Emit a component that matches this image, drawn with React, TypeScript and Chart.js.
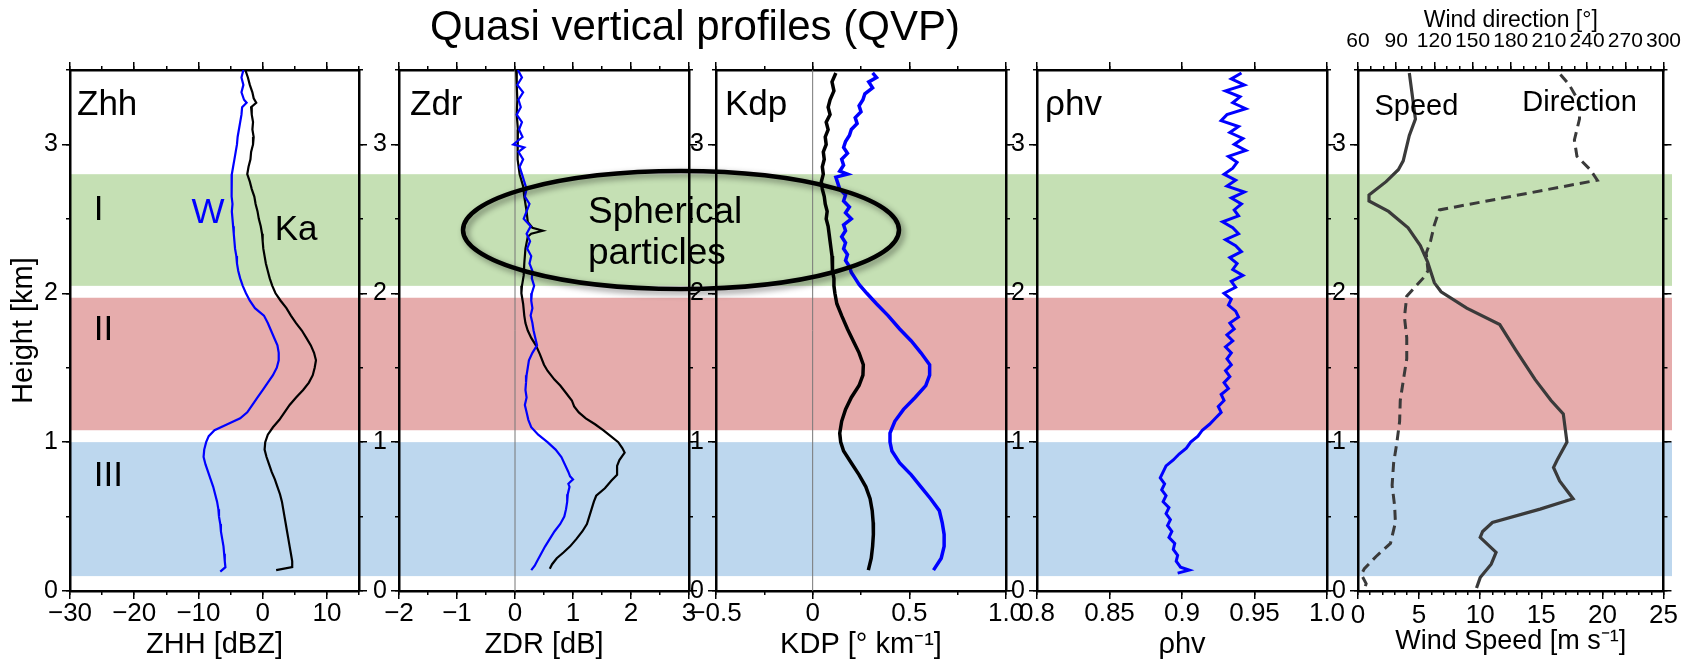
import React, { useEffect, useRef } from 'react';
import { Chart, registerables } from 'chart.js';

Chart.register(...registerables);

const FONT = "'Liberation Sans', Arial, Helvetica, sans-serif";
Chart.defaults.font.family = FONT;
Chart.defaults.color = '#000';

// ---------------- data ----------------
const heightRange = [0, 3.5];
const heightMajor = [0, 1, 2, 3];
const heightLabels = ['0', '1', '2', '3'];
const heightMinor = [0, 0.5, 1, 1.5, 2, 2.5, 3, 3.5];

const layerNames = ['I', 'II', 'III'];
const layerTop = [2.8, 1.97, 1.0];
const layerBottom = [2.05, 1.08, 0.1];
const layerLabelHeight = [2.56, 1.75, 0.77];

// Zhh
const zhhRange = [-30, 15];
const zhhMajor = [-30, -20, -10, 0, 10];
const zhhLabels = ['−30', '−20', '−10', '0', '10'];
const zhhMinor = [-30, -25, -20, -15, -10, -5, 0, 5, 10, 15];
const zhhKaHeight = [3.5, 3.45, 3.4, 3.35, 3.31, 3.28, 3.25, 3.2, 3.15, 3.1, 3.05, 3.0, 2.95, 2.9, 2.85, 2.8, 2.75, 2.7, 2.65, 2.6, 2.55, 2.5, 2.45, 2.4, 2.35, 2.3, 2.25, 2.2, 2.15, 2.1, 2.05, 2.0, 1.95, 1.9, 1.85, 1.8, 1.75, 1.7, 1.65, 1.6, 1.55, 1.5, 1.45, 1.4, 1.35, 1.3, 1.25, 1.2, 1.15, 1.1, 1.05, 1.0, 0.95, 0.9, 0.85, 0.8, 0.75, 0.7, 0.65, 0.6, 0.55, 0.5, 0.45, 0.4, 0.35, 0.3, 0.25, 0.2, 0.16, 0.14];
const zhhKaValue = [-2.7, -2.3, -2.0, -1.6, -1.4, -1.0, -1.8, -1.7, -1.5, -1.6, -1.4, -1.5, -1.8, -1.9, -2.2, -2.4, -2.0, -1.7, -1.3, -1.1, -0.8, -0.6, -0.3, -0.1, 0.0, 0.1, 0.3, 0.5, 0.8, 1.1, 1.5, 2.0, 2.8, 3.7, 4.4, 5.2, 6.1, 6.8, 7.5, 8.0, 8.3, 8.1, 7.8, 7.2, 6.3, 5.2, 4.2, 3.4, 2.6, 1.6, 0.8, 0.4, 0.3, 0.6, 1.0, 1.4, 1.9, 2.3, 2.7, 3.0, 3.2, 3.4, 3.6, 3.8, 4.0, 4.2, 4.4, 4.6, 4.6, 2.1];
const zhhWHeight = [3.5, 3.45, 3.4, 3.35, 3.3, 3.28, 3.25, 3.2, 3.15, 3.1, 3.05, 3.0, 2.95, 2.9, 2.85, 2.8, 2.75, 2.7, 2.65, 2.6, 2.55, 2.5, 2.45, 2.4, 2.35, 2.3, 2.25, 2.2, 2.15, 2.1, 2.05, 2.0, 1.95, 1.9, 1.85, 1.8, 1.75, 1.7, 1.65, 1.6, 1.55, 1.5, 1.45, 1.4, 1.35, 1.3, 1.25, 1.2, 1.16, 1.12, 1.08, 1.04, 1.0, 0.95, 0.9, 0.85, 0.8, 0.75, 0.7, 0.65, 0.6, 0.55, 0.5, 0.45, 0.4, 0.35, 0.3, 0.25, 0.2, 0.16, 0.13];
const zhhWValue = [-3.0, -3.3, -3.0, -3.3, -2.9, -2.5, -3.2, -3.3, -3.5, -3.7, -3.9, -4.0, -4.2, -4.4, -4.6, -4.8, -4.9, -4.8, -4.8, -4.7, -4.8, -4.7, -4.6, -4.5, -4.4, -4.3, -4.1, -4.0, -3.8, -3.5, -3.1, -2.6, -2.0, -1.2, 0.2, 0.8, 1.3, 1.8, 2.3, 2.5, 2.5, 2.2, 1.6, 0.8, 0.0, -0.8, -1.6, -2.4, -3.5, -5.5, -7.5, -8.4, -8.8, -9.1, -9.2, -8.9, -8.5, -8.1, -7.7, -7.4, -7.1, -6.9, -6.8, -6.6, -6.5, -6.3, -6.1, -6.0, -5.9, -5.8, -6.6];

// Zdr
const zdrRange = [-2, 3];
const zdrMajor = [-2, -1, 0, 1, 2, 3];
const zdrLabels = ['−2', '−1', '0', '1', '2', '3'];
const zdrMinor = [-2, -1.5, -1, -0.5, 0, 0.5, 1, 1.5, 2, 2.5, 3];
const zdrKaHeight = [3.5, 3.4, 3.3, 3.2, 3.1, 3.0, 2.9, 2.8, 2.72, 2.65, 2.55, 2.48, 2.44, 2.42, 2.4, 2.38, 2.3, 2.2, 2.12, 2.05, 2.0, 1.93, 1.85, 1.8, 1.75, 1.7, 1.65, 1.59, 1.52, 1.48, 1.42, 1.38, 1.33, 1.28, 1.24, 1.2, 1.16, 1.12, 1.08, 1.04, 1.0, 0.96, 0.93, 0.88, 0.84, 0.78, 0.74, 0.69, 0.64, 0.6, 0.55, 0.5, 0.45, 0.4, 0.35, 0.3, 0.26, 0.22, 0.18, 0.15];
const zdrKaValue = [0.02, 0.03, 0.04, 0.03, 0.05, 0.04, 0.05, 0.08, 0.14, 0.16, 0.2, 0.22, 0.3, 0.48, 0.28, 0.22, 0.18, 0.16, 0.15, 0.12, 0.11, 0.14, 0.16, 0.18, 0.22, 0.28, 0.36, 0.43, 0.5, 0.56, 0.68, 0.78, 0.88, 0.98, 1.02, 1.1, 1.22, 1.38, 1.52, 1.65, 1.78, 1.85, 1.89, 1.8, 1.76, 1.76, 1.66, 1.55, 1.4, 1.36, 1.32, 1.28, 1.24, 1.16, 1.06, 0.95, 0.84, 0.72, 0.64, 0.6];
const zdrWHeight = [3.5, 3.45, 3.4, 3.35, 3.3, 3.25, 3.2, 3.15, 3.1, 3.05, 3.0, 2.98, 2.95, 2.9, 2.85, 2.8, 2.75, 2.7, 2.65, 2.6, 2.55, 2.5, 2.45, 2.4, 2.35, 2.3, 2.25, 2.2, 2.15, 2.1, 2.05, 2.0, 1.95, 1.9, 1.85, 1.8, 1.75, 1.7, 1.65, 1.6, 1.55, 1.5, 1.45, 1.4, 1.35, 1.3, 1.25, 1.2, 1.15, 1.1, 1.05, 1.0, 0.95, 0.9, 0.85, 0.8, 0.77, 0.75, 0.72, 0.7, 0.65, 0.6, 0.55, 0.5, 0.45, 0.4, 0.35, 0.3, 0.25, 0.2, 0.17, 0.14];
const zdrWValue = [0.05, 0.12, 0.04, 0.14, 0.06, 0.1, 0.03, 0.12, 0.07, 0.13, -0.03, 0.16, 0.06, 0.14, 0.08, 0.12, 0.16, 0.2, 0.17, 0.25, 0.2, 0.15, 0.27, 0.2, 0.26, 0.21, 0.28, 0.25, 0.3, 0.29, 0.33, 0.29, 0.28, 0.3, 0.27, 0.3, 0.32, 0.35, 0.38, 0.3, 0.24, 0.22, 0.2, 0.19, 0.18, 0.2, 0.17, 0.2, 0.23, 0.28, 0.4, 0.56, 0.7, 0.8, 0.86, 0.92, 0.95, 1.0, 0.92, 0.94, 0.91, 0.9, 0.88, 0.85, 0.78, 0.68, 0.6, 0.52, 0.45, 0.38, 0.34, 0.28];

// Kdp
const kdpRange = [-0.5, 1.0];
const kdpMajor = [-0.5, 0, 0.5, 1.0];
const kdpLabels = ['−0.5', '0', '0.5', '1.0'];
const kdpMinor = [-0.5, -0.25, 0, 0.25, 0.5, 0.75, 1.0];
const kdpKaHeight = [3.48, 3.42, 3.36, 3.3, 3.25, 3.2, 3.15, 3.1, 3.05, 3.0, 2.95, 2.9, 2.85, 2.8, 2.75, 2.7, 2.65, 2.6, 2.55, 2.5, 2.45, 2.4, 2.35, 2.3, 2.25, 2.2, 2.15, 2.1, 2.05, 2.0, 1.93, 1.85, 1.76, 1.68, 1.6, 1.52, 1.45, 1.38, 1.3, 1.22, 1.14, 1.06, 1.0, 0.94, 0.86, 0.78, 0.7, 0.62, 0.54, 0.46, 0.38, 0.3, 0.22, 0.14];
const kdpKaValue = [0.12, 0.1, 0.11, 0.09, 0.08, 0.09, 0.07, 0.08, 0.065, 0.07, 0.055, 0.06, 0.05, 0.055, 0.045, 0.05, 0.06, 0.065, 0.075, 0.07, 0.08, 0.085, 0.09, 0.095, 0.1, 0.1, 0.105, 0.11, 0.11, 0.115, 0.125, 0.15, 0.18, 0.21, 0.24, 0.262, 0.26, 0.24, 0.2, 0.17, 0.15, 0.14, 0.145, 0.16, 0.2, 0.24, 0.275, 0.297, 0.308, 0.313, 0.314, 0.31, 0.303, 0.288];
const kdpWHeight = [3.48, 3.45, 3.42, 3.38, 3.34, 3.3, 3.26, 3.22, 3.18, 3.14, 3.1, 3.06, 3.02, 2.98, 2.94, 2.9, 2.86, 2.82, 2.8, 2.78, 2.74, 2.7, 2.66, 2.62, 2.58, 2.54, 2.5, 2.46, 2.42, 2.38, 2.34, 2.3, 2.26, 2.22, 2.18, 2.14, 2.1, 2.06, 2.0, 1.93, 1.85, 1.76, 1.68, 1.6, 1.52, 1.45, 1.38, 1.3, 1.22, 1.14, 1.06, 1.0, 0.94, 0.86, 0.78, 0.7, 0.62, 0.54, 0.46, 0.38, 0.3, 0.22, 0.14];
const kdpWValue = [0.31, 0.33, 0.29, 0.31, 0.27, 0.26, 0.24, 0.25, 0.22, 0.23, 0.2, 0.19, 0.17, 0.16, 0.18, 0.15, 0.16, 0.14, 0.18, 0.12, 0.13, 0.14, 0.17, 0.16, 0.19, 0.17, 0.2, 0.16, 0.17, 0.15, 0.17, 0.16, 0.18, 0.17, 0.19, 0.2, 0.22, 0.24, 0.28, 0.33, 0.39, 0.45, 0.51, 0.56, 0.605, 0.605, 0.585, 0.53, 0.47, 0.425, 0.4, 0.4, 0.41, 0.45, 0.51, 0.56, 0.61, 0.655, 0.67, 0.68, 0.68, 0.665, 0.625];

// rho hv
const rhoRange = [0.8, 1.0];
const rhoMajor = [0.8, 0.85, 0.9, 0.95, 1.0];
const rhoLabels = ['0.8', '0.85', '0.9', '0.95', '1.0'];
const rhoMinor = [0.8, 0.85, 0.9, 0.95, 1.0];
const rhoHeight = [3.48, 3.44, 3.4, 3.36, 3.32, 3.28, 3.24, 3.2, 3.16, 3.12, 3.08, 3.04, 3.0, 2.96, 2.92, 2.88, 2.84, 2.8, 2.76, 2.72, 2.68, 2.64, 2.6, 2.56, 2.52, 2.48, 2.44, 2.4, 2.36, 2.32, 2.28, 2.24, 2.2, 2.16, 2.12, 2.08, 2.04, 2.0, 1.96, 1.92, 1.88, 1.84, 1.8, 1.76, 1.72, 1.68, 1.64, 1.6, 1.56, 1.52, 1.48, 1.44, 1.4, 1.36, 1.32, 1.28, 1.24, 1.2, 1.16, 1.12, 1.08, 1.04, 1.0, 0.96, 0.92, 0.88, 0.84, 0.8, 0.76, 0.72, 0.68, 0.64, 0.6, 0.56, 0.52, 0.48, 0.44, 0.4, 0.36, 0.32, 0.28, 0.24, 0.2, 0.16, 0.14, 0.12];
const rhoValue = [0.941, 0.934, 0.943, 0.93, 0.94, 0.935, 0.944, 0.931, 0.927, 0.939, 0.933, 0.942, 0.936, 0.944, 0.932, 0.938, 0.935, 0.929, 0.937, 0.931, 0.943, 0.934, 0.941, 0.936, 0.939, 0.928, 0.935, 0.939, 0.93, 0.937, 0.941, 0.933, 0.938, 0.935, 0.942, 0.934, 0.937, 0.929, 0.934, 0.932, 0.937, 0.939, 0.933, 0.936, 0.931, 0.935, 0.93, 0.934, 0.931, 0.934, 0.93, 0.933, 0.929, 0.932, 0.927, 0.929, 0.925, 0.927, 0.923, 0.919, 0.914, 0.911, 0.906, 0.903, 0.898, 0.894, 0.889, 0.887, 0.885, 0.888, 0.886, 0.889, 0.887, 0.891, 0.889, 0.892, 0.89, 0.893, 0.891, 0.895, 0.894, 0.897, 0.896, 0.899, 0.905, 0.897];

// Wind
const speedRange = [0, 25];
const speedMajor = [0, 5, 10, 15, 20, 25];
const speedLabels = ['0', '5', '10', '15', '20', '25'];
const speedMinor = [0, 1, 2, 3, 4, 5, 6, 7, 8, 9, 10, 11, 12, 13, 14, 15, 16, 17, 18, 19, 20, 21, 22, 23, 24, 25];
const dirRange = [60, 300];
const dirMajor = [60, 90, 120, 150, 180, 210, 240, 270, 300];
const dirLabels = ['60', '90', '120', '150', '180', '210', '240', '270', '300'];
const dirMinor = [60, 70, 80, 90, 100, 110, 120, 130, 140, 150, 160, 170, 180, 190, 200, 210, 220, 230, 240, 250, 260, 270, 280, 290, 300];
const speedHeight = [3.48, 3.17, 3.06, 2.89, 2.83, 2.75, 2.66, 2.62, 2.55, 2.44, 2.32, 2.21, 2.07, 2.01, 1.9, 1.79, 1.62, 1.42, 1.28, 1.19, 1.0, 0.88, 0.83, 0.74, 0.62, 0.55, 0.46, 0.4, 0.36, 0.26, 0.18, 0.09, 0.02];
const speedValue = [4.2, 4.7, 4.2, 3.7, 3.3, 2.3, 0.9, 0.9, 2.5, 4.1, 5.1, 5.7, 6.25, 6.8, 8.9, 11.6, 12.9, 14.5, 15.8, 16.8, 17.1, 16.3, 16.0, 16.5, 17.6, 14.9, 11.0, 10.2, 10.0, 11.3, 10.9, 10.0, 9.7];
const dirHeight = [3.47, 3.4, 3.28, 3.17, 3.03, 2.92, 2.83, 2.76, 2.56, 2.46, 2.35, 2.27, 2.15, 2.1, 1.98, 1.84, 1.7, 1.56, 1.42, 1.28, 1.14, 1.0, 0.86, 0.71, 0.57, 0.46, 0.32, 0.23, 0.15, 0.11, 0.05, 0.01];
const dirValue = [219, 226, 234, 234, 230, 232, 242.5, 248, 124, 120, 117, 113.6, 115, 111, 98.3, 96.5, 98.3, 98.3, 95.7, 93.2, 92.7, 90.6, 88, 86.8, 88.8, 89.4, 85.5, 74, 65, 62.6, 66.4, 65];

// ---------------- layout / style ----------------
const PAGE_W = 1691;
const PAGE_H = 661;
const AREA_TOP = 70;
const AREA_BOTTOM = 591;
const BOTTOM_H = 70;
const PANEL_LEFT = [70, 399, 716, 1037, 1358];
const PANEL_RIGHT = [359, 689, 1006, 1327, 1672];
const LAYER_COLORS = ['#c5e0b4', '#e6acac', '#bdd7ee'];
const BLUE = '#0000ff';
const WIND = '#3a3a3a';

function series(h: number[], v: number[], color: string, width: number, extra: any = {}) {
  return {
    data: h.map((y, i) => ({ x: v[i], y })),
    borderColor: color,
    backgroundColor: color,
    borderWidth: width,
    showLine: true,
    pointRadius: 0,
    pointHoverRadius: 0,
    tension: 0,
    fill: false,
    ...extra,
  };
}

function zeroLine() {
  return series([heightRange[0], heightRange[1]], [0, 0], '#777777', 1);
}

function makeAxis(o: any) {
  const horizontal = o.axis === 'x';
  return {
    type: 'linear',
    axis: o.axis,
    position: o.position,
    min: o.range[0],
    max: o.range[1],
    weight: o.weight,
    afterBuildTicks: (s: any) => {
      s.ticks = o.ticks.map((v: number) => ({ value: v }));
    },
    afterFit: (s: any) => {
      if (horizontal) s.height = o.size;
      else s.width = o.size;
    },
    grid: { display: true, drawOnChartArea: false, drawTicks: true, tickLength: o.len, color: '#000', lineWidth: 1.5 },
    border: { display: o.border !== false, color: '#000', width: 2.5 },
    ticks: o.labels
      ? {
          display: true,
          autoSkip: false,
          maxRotation: 0,
          minRotation: 0,
          color: '#000',
          padding: o.pad,
          font: { family: FONT, size: o.fontSize, lineHeight: 1 },
          callback: (_v: any, i: number) => o.labels[i],
        }
      : { display: false },
    title: o.title || { display: false },
  };
}

function makeConfig(i: number, spec: any) {
  const leftW = i === 0 ? 70 : 40;
  const topH = spec.topLabels ? 70 : 10;
  const scales: any = {
    x: makeAxis({
      position: 'bottom', axis: 'x', range: spec.range, ticks: spec.major, len: 8, size: BOTTOM_H, weight: 1,
      labels: spec.labels, fontSize: 26, pad: spec.labelPad,
      title: {
        display: true, text: spec.title, color: '#000',
        font: { family: FONT, size: spec.titleSize, lineHeight: 1 },
        padding: { top: 0, bottom: spec.titlePad },
      },
    }),
    xm: makeAxis({ position: 'bottom', axis: 'x', range: spec.range, ticks: spec.minor, len: 4, size: 0, weight: 0, border: false }),
    xt: makeAxis({
      position: 'top', axis: 'x', range: spec.topRange || spec.range, ticks: spec.topMajor || spec.major, len: 8, size: topH, weight: 1,
      labels: spec.topLabels, fontSize: 21, pad: 10,
      title: spec.topTitle
        ? { display: true, text: spec.topTitle, color: '#000', font: { family: FONT, size: 23, lineHeight: 1 }, padding: { top: 9, bottom: 0 } }
        : undefined,
    }),
    xtm: makeAxis({ position: 'top', axis: 'x', range: spec.topRange || spec.range, ticks: spec.topMinor || spec.minor, len: 4, size: 0, weight: 0, border: false }),
    y: makeAxis({
      position: 'left', axis: 'y', range: heightRange, ticks: heightMajor, len: 8, size: leftW, weight: 1,
      labels: heightLabels, fontSize: 25, pad: 4,
      title: i === 0
        ? { display: true, text: 'Height [km]', color: '#000', font: { family: FONT, size: 29, lineHeight: 1 }, padding: { top: 9, bottom: 0 } }
        : undefined,
    }),
    ym: makeAxis({ position: 'left', axis: 'y', range: heightRange, ticks: heightMinor, len: 4, size: 0, weight: 0, border: false }),
    yr: makeAxis({ position: 'right', axis: 'y', range: heightRange, ticks: heightMajor, len: 8, size: 8, weight: 1 }),
    yrm: makeAxis({ position: 'right', axis: 'y', range: heightRange, ticks: heightMinor, len: 4, size: 0, weight: 0, border: false }),
  };
  return {
    type: 'scatter',
    data: { datasets: spec.datasets },
    options: {
      responsive: false,
      animation: false,
      devicePixelRatio: 1,
      events: [],
      layout: {
        padding: {
          left: PANEL_LEFT[i] - leftW,
          right: PAGE_W - PANEL_RIGHT[i] - 8,
          top: AREA_TOP - topH,
          bottom: PAGE_H - AREA_BOTTOM - BOTTOM_H,
        },
      },
      plugins: { legend: { display: false }, tooltip: { enabled: false }, title: { display: false } },
      scales,
    },
    plugins: spec.plugins || [],
  };
}

// --------------- plugins ---------------
const NAME_HEIGHT = 3.2;

const bandsPlugin = {
  id: 'layerBands',
  beforeDraw(chart: any) {
    const { ctx, chartArea, scales } = chart;
    const y = scales.y;
    ctx.save();
    layerTop.forEach((t, k) => {
      const y1 = y.getPixelForValue(t);
      const y2 = y.getPixelForValue(layerBottom[k]);
      ctx.fillStyle = LAYER_COLORS[k];
      ctx.fillRect(chartArea.left, y1, PANEL_RIGHT[4] - chartArea.left, y2 - y1);
    });
    ctx.restore();
  },
};

function nameLabel(name: string, dx: number) {
  return {
    id: 'name_' + name,
    afterDatasetsDraw(chart: any) {
      const { ctx, chartArea, scales } = chart;
      ctx.save();
      ctx.fillStyle = '#000';
      ctx.font = `35px ${FONT}`;
      ctx.textAlign = 'left';
      ctx.textBaseline = 'alphabetic';
      ctx.fillText(name, chartArea.left + dx, scales.y.getPixelForValue(NAME_HEIGHT));
      ctx.restore();
    },
  };
}

const zhhTextPlugin = {
  id: 'zhhText',
  afterDatasetsDraw(chart: any) {
    const { ctx, scales } = chart;
    const { x, y } = scales;
    ctx.save();
    ctx.font = `35px ${FONT}`;
    ctx.fillStyle = '#000';
    ctx.textAlign = 'left';
    ctx.textBaseline = 'middle';
    layerNames.forEach((n, k) => ctx.fillText(n, x.getPixelForValue(-26.3), y.getPixelForValue(layerLabelHeight[k])));
    ctx.textAlign = 'center';
    ctx.fillStyle = BLUE;
    ctx.fillText('W', x.getPixelForValue(-8.5), y.getPixelForValue(2.54));
    ctx.fillStyle = '#000';
    ctx.fillText('Ka', x.getPixelForValue(5.2), y.getPixelForValue(2.425));
    ctx.restore();
  },
};

const windTextPlugin = {
  id: 'windText',
  afterDatasetsDraw(chart: any) {
    const { ctx, scales } = chart;
    const { x, y } = scales;
    ctx.save();
    ctx.font = `29px ${FONT}`;
    ctx.fillStyle = '#000';
    ctx.textAlign = 'left';
    ctx.textBaseline = 'alphabetic';
    ctx.fillText('Speed', x.getPixelForValue(1.35), y.getPixelForValue(3.2));
    ctx.fillText('Direction', x.getPixelForValue(13.45), y.getPixelForValue(3.225));
    ctx.restore();
  },
};

const overlayPlugin = {
  id: 'overlay',
  afterDraw(chart: any) {
    const { ctx, scales } = chart;
    const y = scales.y;
    ctx.save();
    ctx.fillStyle = '#000';
    ctx.font = `42px ${FONT}`;
    ctx.textAlign = 'center';
    ctx.textBaseline = 'alphabetic';
    ctx.fillText('Quasi vertical profiles (QVP)', 695, 40);

    const yc = y.getPixelForValue(2.425);
    const ry = y.getPixelForValue(2.425 - 0.396) - yc;
    ctx.shadowColor = 'rgba(0,0,0,0.45)';
    ctx.shadowBlur = 6;
    ctx.shadowOffsetX = 3;
    ctx.shadowOffsetY = 3;
    ctx.beginPath();
    ctx.ellipse(681, yc, 218, ry, 0, 0, Math.PI * 2);
    ctx.lineWidth = 4.5;
    ctx.strokeStyle = '#000';
    ctx.stroke();
    ctx.shadowColor = 'transparent';
    ctx.shadowBlur = 0;
    ctx.shadowOffsetX = 0;
    ctx.shadowOffsetY = 0;

    ctx.font = `37px ${FONT}`;
    ctx.textAlign = 'left';
    ctx.fillText('Spherical', 588, y.getPixelForValue(2.472));
    ctx.fillText('particles', 588, y.getPixelForValue(2.197));
    ctx.restore();
  },
};

// --------------- panels ---------------
const panelSpecs = [
  {
    range: zhhRange, major: zhhMajor, minor: zhhMinor, labels: zhhLabels,
    title: 'ZHH [dBZ]', titleSize: 29, titlePad: 2, labelPad: 2,
    datasets: [
      series(zhhWHeight, zhhWValue, BLUE, 2.2),
      series(zhhKaHeight, zhhKaValue, '#000', 2.2),
    ],
    plugins: [bandsPlugin, nameLabel('Zhh', 7), zhhTextPlugin],
  },
  {
    range: zdrRange, major: zdrMajor, minor: zdrMinor, labels: zdrLabels,
    title: 'ZDR [dB]', titleSize: 29, titlePad: 2, labelPad: 2,
    datasets: [
      series(zdrWHeight, zdrWValue, BLUE, 2.2),
      series(zdrKaHeight, zdrKaValue, '#000', 2.2),
      zeroLine(),
    ],
    plugins: [nameLabel('Zdr', 11)],
  },
  {
    range: kdpRange, major: kdpMajor, minor: kdpMinor, labels: kdpLabels,
    title: 'KDP [° km⁻¹]', titleSize: 29, titlePad: 2, labelPad: 2,
    datasets: [
      series(kdpWHeight, kdpWValue, BLUE, 3.5),
      series(kdpKaHeight, kdpKaValue, '#000', 3.5),
      zeroLine(),
    ],
    plugins: [nameLabel('Kdp', 9)],
  },
  {
    range: rhoRange, major: rhoMajor, minor: rhoMinor, labels: rhoLabels,
    title: 'ρhv', titleSize: 29, titlePad: 2, labelPad: 2,
    datasets: [series(rhoHeight, rhoValue, BLUE, 3)],
    plugins: [nameLabel('ρhv', 8)],
  },
  {
    range: speedRange, major: speedMajor, minor: speedMinor, labels: speedLabels,
    title: 'Wind Speed [m s⁻¹]', titleSize: 27, titlePad: 6, labelPad: 4,
    topRange: dirRange, topMajor: dirMajor, topMinor: dirMinor, topLabels: dirLabels,
    topTitle: 'Wind direction [°]',
    datasets: [
      series(speedHeight, speedValue, WIND, 3.2),
      series(dirHeight, dirValue, WIND, 3, { xAxisID: 'xt', borderDash: [10, 6] }),
    ],
    plugins: [windTextPlugin, overlayPlugin],
  },
];

function PanelCanvas({ index }: { index: number }) {
  const ref = useRef<HTMLCanvasElement>(null);
  useEffect(() => {
    if (!ref.current) return;
    const chart = new Chart(ref.current, makeConfig(index, panelSpecs[index]) as any);
    return () => chart.destroy();
  }, [index]);
  return (
    <canvas
      ref={ref}
      width={PAGE_W}
      height={PAGE_H}
      style={{ position: 'absolute', left: 0, top: 0, width: PAGE_W, height: PAGE_H }}
    />
  );
}

export default function App() {
  return (
    <div style={{ position: 'absolute', left: 0, top: 0, width: PAGE_W, height: PAGE_H, background: '#fff', overflow: 'hidden' }}>
      {panelSpecs.map((_, i) => (
        <PanelCanvas key={i} index={i} />
      ))}
    </div>
  );
}
